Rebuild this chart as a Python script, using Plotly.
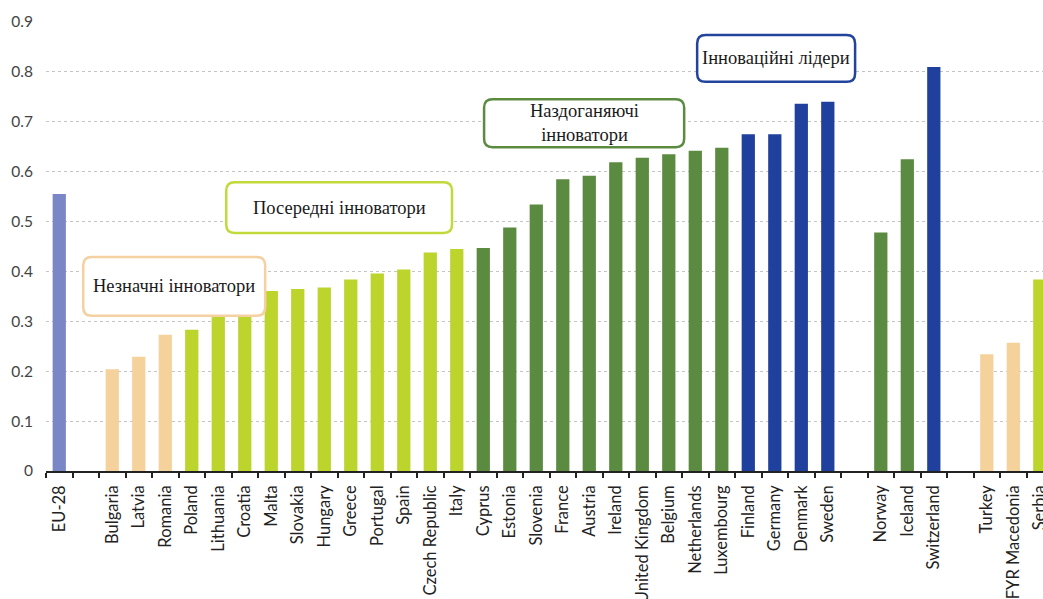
import plotly.graph_objects as go

categories = ["EU-28", " ", "Bulgaria", "Latvia", "Romania", "Poland", "Lithuania", "Croatia",
              "Malta", "Slovakia", "Hungary", "Greece", "Portugal", "Spain", "Czech Republic",
              "Italy", "Cyprus", "Estonia", "Slovenia", "France", "Austria", "Ireland",
              "United Kingdom", "Belgium", "Netherlands", "Luxembourg", "Finland", "Germany",
              "Denmark", "Sweden", "  ", "Norway", "Iceland", "Switzerland", "   ", "Turkey",
              "FYR Macedonia", "Serbia"]
values = [0.555, None, 0.204, 0.229, 0.273, 0.283, 0.313, 0.315,
          0.361, 0.365, 0.368, 0.384, 0.396, 0.404, 0.438,
          0.445, 0.447, 0.488, 0.534, 0.585, 0.592, 0.619,
          0.628, 0.635, 0.642, 0.648, 0.675, 0.675,
          0.736, 0.740, None, 0.478, 0.625, 0.810, None, 0.234,
          0.257, 0.384]
groups = ["eu", "", "modest", "modest", "modest", "moderate", "moderate", "moderate",
          "moderate", "moderate", "moderate", "moderate", "moderate", "moderate", "moderate",
          "moderate", "strong", "strong", "strong", "strong", "strong", "strong",
          "strong", "strong", "strong", "strong", "leader", "leader",
          "leader", "leader", "", "strong", "strong", "leader", "", "modest",
          "modest", "moderate"]
group_labels = ["Незначні інноватори", "Посередні інноватори",
                "Наздоганяючі<br>інноватори", "Інноваційні лідери"]
y_ticks = [0, 0.1, 0.2, 0.3, 0.4, 0.5, 0.6, 0.7, 0.8, 0.9]

COLORS = {"eu": "#7b86c6", "modest": "#f5d19c", "moderate": "#bcd42c",
          "strong": "#5b8b40", "leader": "#1f409c", "": "#ffffff"}
BOX_COLORS = ["#f5d0a0", "#c2d93a", "#5b8b40", "#23449c"]
# box extents in data coords: x0, x1 (category index), y0, y1
BOXES = [(0.905, 7.77, 0.311, 0.429), (6.30, 14.82, 0.477, 0.579),
         (16.03, 23.58, 0.649, 0.745), (24.07, 30.03, 0.780, 0.874)]

fig = go.Figure()
fig.add_trace(go.Bar(
    x=categories, y=values,
    marker=dict(color=[COLORS[g] for g in groups], line=dict(width=0)),
    width=0.5, showlegend=False, hoverinfo="x+y"))

def rounded(x0, x1, y0, y1, rx=0.32, ry=0.017):
    return (f"M {x0+rx},{y0} L {x1-rx},{y0} Q {x1},{y0} {x1},{y0+ry} "
            f"L {x1},{y1-ry} Q {x1},{y1} {x1-rx},{y1} L {x0+rx},{y1} "
            f"Q {x0},{y1} {x0},{y1-ry} L {x0},{y0+ry} Q {x0},{y0} {x0+rx},{y0} Z")

for (x0, x1, y0, y1), col, lab in zip(BOXES, BOX_COLORS, group_labels):
    fig.add_shape(type="path", path=rounded(x0, x1, y0, y1), xref="x", yref="y",
                  line=dict(color=col, width=2.5), fillcolor="white", layer="above")
    fig.add_annotation(x=(x0 + x1) / 2, y=(y0 + y1) / 2, xref="x", yref="y",
                       text=lab, showarrow=False,
                       font=dict(family="Liberation Serif, Times New Roman, serif",
                                 size=18.5, color="#1a1a1a"))

fig.update_layout(
    width=1043, height=599,
    margin=dict(l=46, r=0, t=22, b=128),
    plot_bgcolor="white", paper_bgcolor="white",
    bargap=0.5,
    xaxis=dict(type="category", categoryorder="array", categoryarray=categories,
               range=[-0.5, 37.12], tickangle=-90, tickson="boundaries",
               ticks="outside", ticklen=5, tickcolor="#222", tickwidth=1.5,
               ticklabelstandoff=6, automargin=False,
               showline=True, linecolor="#222", linewidth=1.5, showgrid=False,
               tickfont=dict(family="Lato", size=16.5, color="#222")),
    yaxis=dict(range=[0, 0.9], tickvals=y_ticks, ticktext=[f"{v:g}" for v in y_ticks],
               showgrid=True, gridcolor="#c4c4c4", griddash="dot", gridwidth=1,
               zeroline=False, ticks="", ticklen=0, ticklabelstandoff=12, automargin=False,
               tickfont=dict(family="Lato", size=15.5, color="#444")),
)

fig.write_html("out.html")
